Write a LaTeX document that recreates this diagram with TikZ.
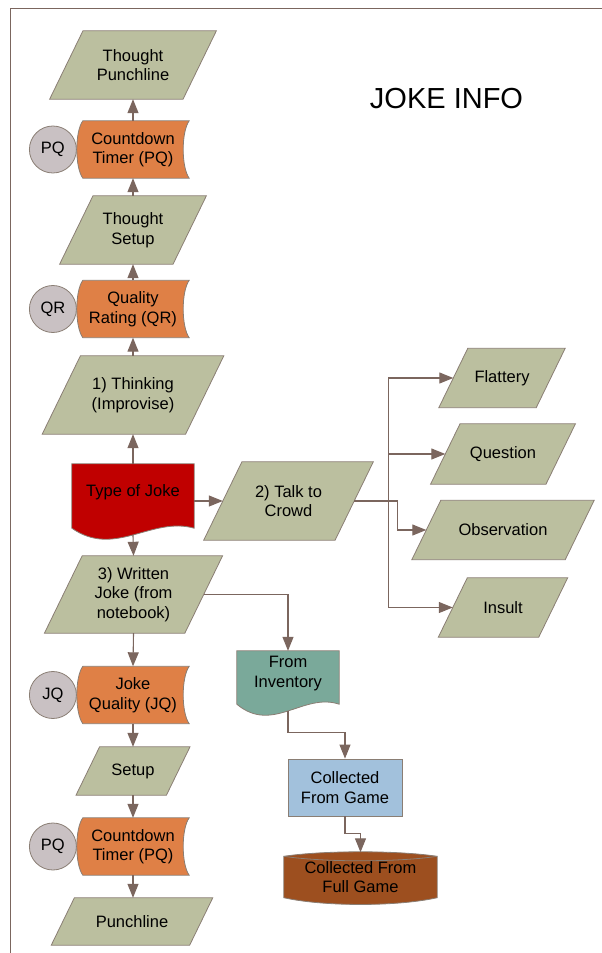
\documentclass[tikz,border=0pt]{standalone}
\usepackage{fontspec}
\setmainfont{Liberation Sans}
\usetikzlibrary{positioning}
\usetikzlibrary{calc,arrows.meta,backgrounds}

\definecolor{parafill}{HTML}{BBBF9F}
\definecolor{timerfill}{HTML}{DF8046}
\definecolor{tagfill}{HTML}{C9C1C3}
\definecolor{jokered}{HTML}{C00000}
\definecolor{invfill}{HTML}{7AA99A}
\definecolor{gamefill}{HTML}{A2C1DC}
\definecolor{fullfill}{HTML}{9D4F1F}
\definecolor{linkcol}{HTML}{7B665E}
\definecolor{edgecol}{HTML}{8A7E74}

\newcommand\slantbox[1]{
	\filldraw[draw=edgecol, fill=parafill, line width=0.8pt]
	    let \p1 = ($(#1.north)-(#1.south)$), \n1 = {0.2438*veclen(\x1,\y1)} in
	    ($(#1.south west)+(-\n1,0pt)$) -- ($(#1.south east)+(-\n1,0pt)$)
	    -- ($(#1.north east)+(\n1,0pt)$) -- ($(#1.north west)+(\n1,0pt)$) -- cycle;
 }
\newcommand\storedata[1]{
	\filldraw[draw=edgecol, fill=timerfill, line width=0.8pt] ($(#1.north west)+(6,0)$) -- (#1.north east)
	    .. controls ($(#1.north east)+(-8,11)$) and ($(#1.south east)+(-8,-11)$) .. (#1.south east)
	    -- ($(#1.south west)+(6,0)$)
	    .. controls ($(#1.south west)+(-2,-11)$) and ($(#1.north west)+(-2,11)$) .. cycle;
 }
\newcommand\docpage[2]{
	\filldraw[draw=edgecol, fill=#2, line width=0.8pt] (#1.north west) -- (#1.north east)
	    -- ($(#1.south east)+(0,8)$)
	    .. controls ($(#1.south west)!0.65!(#1.south east)+(0,-4)$) and ($(#1.south west)!0.35!(#1.south east)+(0,38)$) .. ($(#1.south west)+(0,8)$)
	    -- cycle;
 }
\newcommand\drum[1]{
	\filldraw[draw=edgecol, fill=fullfill, line width=0.8pt] (#1.north west) -- (#1.south west)
	    .. controls ($(#1.south west)+(40,9)$) and ($(#1.south east)+(-40,9)$) .. (#1.south east)
	    -- (#1.north east)
	    .. controls ($(#1.north east)+(-40,-6)$) and ($(#1.north west)+(40,-6)$) .. cycle;
	\draw[edgecol, line width=0.8pt] (#1.north west) .. controls ($(#1.north west)+(40,6)$) and ($(#1.north east)+(-40,6)$) .. (#1.north east);
 }

\tikzset{
	txt/.style={font=\fontsize{16.5}{19.5}\selectfont, align=center, text=black, inner sep=0pt},
	para/.style={txt, rectangle},
	box/.style={txt, rectangle, minimum width=112pt, minimum height=57pt},
	tag/.style={txt, circle, draw=edgecol, fill=tagfill, line width=0.8pt, minimum size=47pt},
	link/.style={draw=linkcol, line width=1.1pt, -{Triangle[length=14pt,width=11pt]}},
	wire/.style={draw=linkcol, line width=1.1pt}
}

\begin{document}
\begin{tikzpicture}[x=1pt,y=-1pt]
		\useasboundingbox (0,0) rectangle (602,953);
		\node[txt, font=\fontsize{29}{34}\selectfont] (title) at (446.5,99) {JOKE INFO};

		\node[para, minimum width=133pt, minimum height=68pt] (tpunch) at (133,65) {Thought\\Punchline};
		\node[box] (pqtop) at (133,149.5) {Countdown\\Timer (PQ)};
		\node[tag, left=0pt of pqtop] (pqtag) {PQ};
		\node[para, minimum width=113pt, minimum height=68pt] (tsetup) at (133,230) {Thought\\Setup};
		\node[box] (qr) at (133,309) {Quality\\Rating (QR)};
		\node[tag, left=0pt of qr] (qrtag) {QR};
		\node[para, minimum width=143pt, minimum height=78pt] (think) at (133,395) {1) Thinking\\(Improvise)};

		\node[txt, minimum width=122pt, minimum height=56pt] (type) at (133,492) {Type of Joke};
		\node[para, minimum width=131pt, minimum height=78pt] (talk) at (288.5,501) {2) Talk to\\Crowd};
		\node[para, minimum width=140pt, minimum height=77pt] (written) at (133.5,594.5) {3) Written\\Joke (from\\notebook)};

		\node[para, minimum width=97pt, minimum height=59pt] (flat) at (502,378) {Flattery};
		\node[para, minimum width=115pt, minimum height=60pt] (quest) at (503,454) {Question};
		\node[para, minimum width=153pt, minimum height=59pt] (obs) at (503,530) {Observation};
		\node[para, minimum width=100pt, minimum height=59pt] (insult) at (503,607.5) {Insult};

		\node[box] (jq) at (133,695) {Joke\\Quality (JQ)};
		\node[tag, left=0pt of jq] (jqtag) {JQ};
		\node[para, minimum width=90pt, minimum height=48pt] (setup) at (133,771) {Setup};
		\node[box] (pqbot) at (133,846.5) {Countdown\\Timer (PQ)};
		\node[tag, left=0pt of pqbot] (pqtag2) {PQ};
		\node[para, minimum width=138pt, minimum height=47pt] (punch) at (132,921.5) {Punchline};

		\node[txt, minimum width=102pt, minimum height=45pt] (inv) at (288,673.5) {From\\Inventory};
		\node[txt, draw=edgecol, fill=gamefill, line width=0.8pt, minimum width=114pt, minimum height=57pt] (game) at (345,787.5) {Collected\\From Game};
		\node[txt, minimum width=153pt, minimum height=41pt] (full) at (360.5,877) {Collected From\\Full Game};

		\coordinate (typeb) at ($(type.south)+(0,15)$);
		\coordinate (invb) at ($(inv.south)+(0,15)$);
		\coordinate (bus) at ($(talk.east)+(34,0)$);

		\draw[link] (pqtop.north) -- (tpunch.south);
		\draw[link] (tsetup.north) -- (pqtop.south);
		\draw[link] (qr.north) -- (tsetup.south);
		\draw[link] (think.north) -- (qr.south);
		\draw[link] (type.north) -- (think.south);
		\draw[link] (type.east |- talk) -- (talk.west);
		\draw[link] (typeb) -- (written.north);
		\draw[link] (written.south) -- (jq.north);
		\draw[link] (written.east) -| (inv.north);
		\draw[link] (jq.south) -- (setup.north);
		\draw[link] (setup.south) -- (pqbot.north);
		\draw[link] (pqbot.south) -- (pqbot.south |- punch.north);
		\draw[link] (invb) -- ++(0,21) -| (game.north);
		\draw[link] (game.south) -- ++(0,17) -| ($(full.north)+(0,-4)$);

		\draw[link] (talk.east) -| ($(obs.west)+(-29,0)$) -- (obs.west);
		\draw[wire] (bus |- flat.west) -- (bus |- insult.west);
		\draw[link] (bus |- flat.west) -- (flat.west);
		\draw[link] (bus |- quest.west) -- (quest.west);
		\draw[link] (bus |- insult.west) -- (insult.west);

		\begin{scope}[on background layer]
			\draw[linkcol, line width=1.2pt] (10.5,953) -- (10.5,8.5) -- (602,8.5);
			\slantbox{tpunch}
			\slantbox{tsetup}
			\slantbox{think}
			\slantbox{talk}
			\slantbox{written}
			\slantbox{flat}
			\slantbox{quest}
			\slantbox{obs}
			\slantbox{insult}
			\slantbox{setup}
			\slantbox{punch}
			\storedata{pqtop}
			\storedata{qr}
			\storedata{jq}
			\storedata{pqbot}
			\docpage{type}{jokered}
			\docpage{inv}{invfill}
			\drum{full}
		\end{scope}
	\end{tikzpicture}
\end{document}
